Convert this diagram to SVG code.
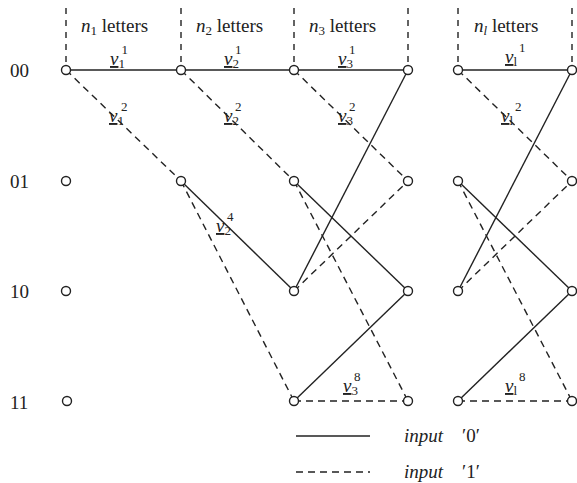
<svg xmlns="http://www.w3.org/2000/svg" width="577" height="483" viewBox="0 0 577 483" font-family="'Liberation Serif', 'Times New Roman', serif">
<style>
text{font-family:'Liberation Serif','Times New Roman',serif;fill:#222}
.s{stroke:#222;stroke-width:1.4;fill:none}
.d{stroke:#222;stroke-width:1.4;fill:none;stroke-dasharray:7,5}
.h{stroke:#222;stroke-width:1.4;fill:none;stroke-dasharray:6,6}
.n{fill:#fff;stroke:#222;stroke-width:1.4}
.row{font-size:19px}
.hdr{font-size:19px}
.lab{font-size:19px;font-style:italic}
.ix{font-size:13px;font-style:normal}
.leg{font-size:19px;font-style:italic}
</style>
<g id="header">
<line class="h" x1="66" y1="8" x2="66" y2="64"/>
<line class="h" x1="181" y1="8" x2="181" y2="64"/>
<line class="h" x1="294" y1="8" x2="294" y2="64"/>
<line class="h" x1="408" y1="8" x2="408" y2="64"/>
<line class="h" x1="458" y1="8" x2="458" y2="64"/>
<line class="h" x1="572" y1="8" x2="572" y2="64"/>
<text class="hdr" x="81" y="32"><tspan font-style="italic">n</tspan><tspan font-size="13" dy="3">1</tspan><tspan dy="-3"> letters</tspan></text>
<text class="hdr" x="196" y="32"><tspan font-style="italic">n</tspan><tspan font-size="13" dy="3">2</tspan><tspan dy="-3"> letters</tspan></text>
<text class="hdr" x="309" y="32"><tspan font-style="italic">n</tspan><tspan font-size="13" dy="3">3</tspan><tspan dy="-3"> letters</tspan></text>
<text class="hdr" x="474" y="32"><tspan font-style="italic">n</tspan><tspan font-size="13" font-style="italic" dy="3">l</tspan><tspan dy="-3"> letters</tspan></text>
</g>
<g id="row-labels">
<text class="row" x="10" y="77">00</text>
<text class="row" x="10" y="188">01</text>
<text class="row" x="10" y="298">10</text>
<text class="row" x="10" y="409">11</text>
</g>
<g id="connectors">
<line class="s" x1="66" y1="70" x2="181" y2="70"/>
<line class="d" x1="66" y1="70" x2="181" y2="181"/>
<line class="s" x1="181" y1="70" x2="294" y2="70"/>
<line class="d" x1="181" y1="70" x2="294" y2="181"/>
<line class="s" x1="181" y1="181" x2="294" y2="291"/>
<line class="d" x1="181" y1="181" x2="294" y2="401"/>
<line class="s" x1="294" y1="70" x2="408" y2="70"/>
<line class="d" x1="294" y1="70" x2="408" y2="181"/>
<line class="s" x1="294" y1="181" x2="408" y2="291"/>
<line class="d" x1="294" y1="181" x2="408" y2="401"/>
<line class="s" x1="294" y1="291" x2="408" y2="70"/>
<line class="d" x1="294" y1="291" x2="408" y2="181"/>
<line class="s" x1="294" y1="401" x2="408" y2="291"/>
<line class="d" x1="294" y1="401" x2="408" y2="401"/>
<line class="s" x1="458" y1="70" x2="572" y2="70"/>
<line class="d" x1="458" y1="70" x2="572" y2="181"/>
<line class="s" x1="458" y1="181" x2="572" y2="291"/>
<line class="d" x1="458" y1="181" x2="572" y2="401"/>
<line class="s" x1="458" y1="291" x2="572" y2="70"/>
<line class="d" x1="458" y1="291" x2="572" y2="181"/>
<line class="s" x1="458" y1="401" x2="572" y2="291"/>
<line class="d" x1="458" y1="401" x2="572" y2="401"/>
</g>
<g id="edge-labels">
<text class="lab" x="110" y="65"><tspan text-decoration="underline">ν</tspan><tspan class="ix" dy="3">1</tspan><tspan class="ix" dx="-3" dy="-14">1</tspan></text>
<text class="lab" x="224" y="65"><tspan text-decoration="underline">ν</tspan><tspan class="ix" dy="3">2</tspan><tspan class="ix" dx="-4" dy="-14">1</tspan></text>
<text class="lab" x="338" y="65"><tspan text-decoration="underline">ν</tspan><tspan class="ix" dy="3">3</tspan><tspan class="ix" dx="-4" dy="-14">1</tspan></text>
<text class="lab" x="505" y="63"><tspan text-decoration="underline">ν</tspan><tspan class="ix" font-style="italic" dy="3">l</tspan><tspan class="ix" dx="2" dy="-14">1</tspan></text>
<text class="lab" x="109" y="122"><tspan text-decoration="underline">ν</tspan><tspan class="ix" dy="3">1</tspan><tspan class="ix" dx="-3" dy="-14">2</tspan></text>
<text class="lab" x="224" y="122"><tspan text-decoration="underline">ν</tspan><tspan class="ix" dy="3">2</tspan><tspan class="ix" dx="-4" dy="-14">2</tspan></text>
<text class="lab" x="338" y="122"><tspan text-decoration="underline">ν</tspan><tspan class="ix" dy="3">3</tspan><tspan class="ix" dx="-4" dy="-14">2</tspan></text>
<text class="lab" x="501" y="122"><tspan text-decoration="underline">ν</tspan><tspan class="ix" font-style="italic" dy="3">l</tspan><tspan class="ix" dx="2" dy="-14">2</tspan></text>
<text class="lab" x="216" y="232"><tspan text-decoration="underline">ν</tspan><tspan class="ix" dy="3">2</tspan><tspan class="ix" dx="-4" dy="-14">4</tspan></text>
<text class="lab" x="343" y="392"><tspan text-decoration="underline">ν</tspan><tspan class="ix" dy="3">3</tspan><tspan class="ix" dx="-4" dy="-14">8</tspan></text>
<text class="lab" x="505" y="392"><tspan text-decoration="underline">ν</tspan><tspan class="ix" font-style="italic" dy="3">l</tspan><tspan class="ix" dx="2" dy="-14">8</tspan></text>
</g>
<g id="nodes">
<g id="n0-00"><circle class="n" cx="66" cy="70" r="4.5"/></g>
<g id="n0-01"><circle class="n" cx="66" cy="181" r="4.5"/></g>
<g id="n0-10"><circle class="n" cx="66" cy="291" r="4.5"/></g>
<g id="n0-11"><circle class="n" cx="67" cy="401" r="4.5"/></g>
<g id="n1-00"><circle class="n" cx="181" cy="70" r="4.5"/></g>
<g id="n1-01"><circle class="n" cx="181" cy="181" r="4.5"/></g>
<g id="n2-00"><circle class="n" cx="294" cy="70" r="4.5"/></g>
<g id="n2-01"><circle class="n" cx="294" cy="181" r="4.5"/></g>
<g id="n2-10"><circle class="n" cx="294" cy="291" r="4.5"/></g>
<g id="n2-11"><circle class="n" cx="294" cy="401" r="4.5"/></g>
<g id="n3-00"><circle class="n" cx="408" cy="70" r="4.5"/></g>
<g id="n3-01"><circle class="n" cx="408" cy="181" r="4.5"/></g>
<g id="n3-10"><circle class="n" cx="408" cy="291" r="4.5"/></g>
<g id="n3-11"><circle class="n" cx="408" cy="401" r="4.5"/></g>
<g id="nl-00"><circle class="n" cx="458" cy="70" r="4.5"/></g>
<g id="nl-01"><circle class="n" cx="458" cy="181" r="4.5"/></g>
<g id="nl-10"><circle class="n" cx="458" cy="291" r="4.5"/></g>
<g id="nl-11"><circle class="n" cx="458" cy="401" r="4.5"/></g>
<g id="nl1-00"><circle class="n" cx="572" cy="70" r="4.5"/></g>
<g id="nl1-01"><circle class="n" cx="572" cy="181" r="4.5"/></g>
<g id="nl1-10"><circle class="n" cx="572" cy="291" r="4.5"/></g>
<g id="nl1-11"><circle class="n" cx="572" cy="401" r="4.5"/></g>
</g>
<g id="legend">
<line class="s" x1="296" y1="436" x2="370" y2="436"/>
<text class="leg" x="404" y="442">input</text>
<text class="row" x="462" y="442">′0′</text>
<line class="d" x1="296" y1="472" x2="370" y2="472"/>
<text class="leg" x="404" y="478">input</text>
<text class="row" x="462" y="478">′1′</text>
</g>
</svg>
